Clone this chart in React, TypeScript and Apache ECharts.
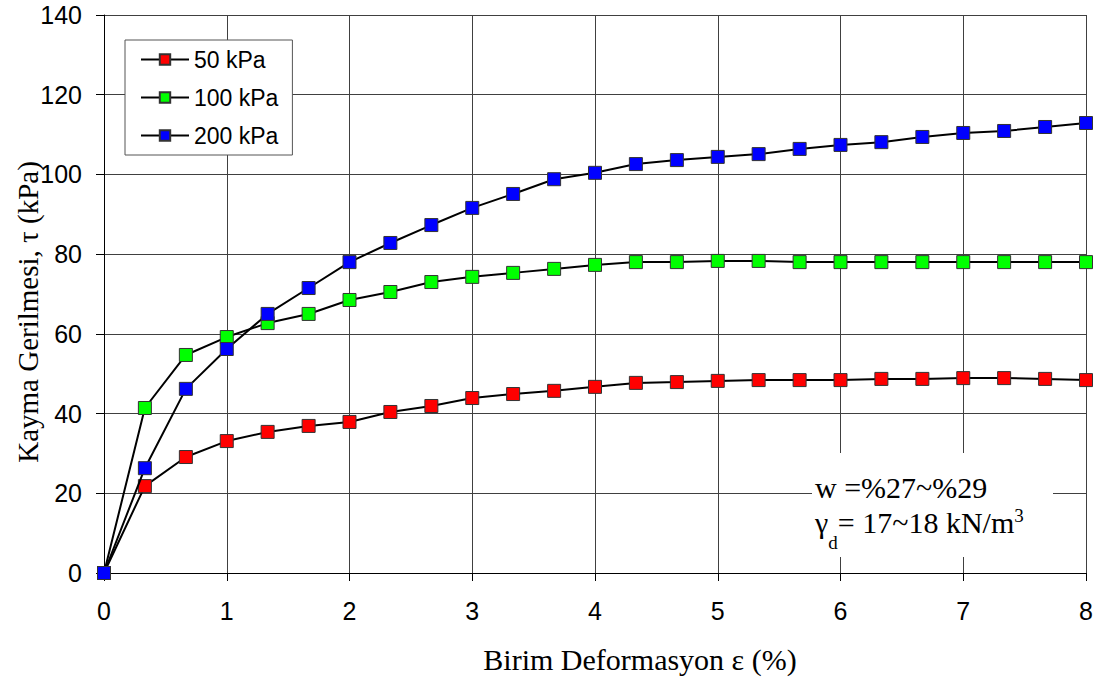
import React, { useEffect, useRef } from "react";
import * as echarts from "echarts";

const strain = [0, 0.333, 0.667, 1, 1.333, 1.667, 2, 2.333, 2.667, 3, 3.333, 3.667, 4, 4.333, 4.667, 5, 5.333, 5.667, 6, 6.333, 6.667, 7, 7.333, 7.667, 8];
const s50 = [0, 21.8, 29.1, 33.1, 35.4, 36.9, 37.9, 40.4, 41.9, 43.9, 44.9, 45.7, 46.7, 47.7, 47.9, 48.2, 48.4, 48.4, 48.4, 48.7, 48.7, 48.9, 48.9, 48.7, 48.4];
const s100 = [0, 41.4, 54.7, 59.2, 62.7, 65, 68.5, 70.5, 73, 74.3, 75.3, 76.3, 77.3, 78, 78, 78.3, 78.3, 78, 78, 78, 78, 78, 78, 78, 78];
const s200 = [0, 26.3, 46.2, 56.2, 65, 71.5, 78, 82.8, 87.3, 91.6, 95.1, 98.8, 100.4, 102.6, 103.6, 104.4, 105.1, 106.4, 107.4, 108.1, 109.4, 110.4, 110.9, 111.9, 112.9];
const seriesNames = ["50 kPa", "100 kPa", "200 kPa"];
const seriesColors = ["#ff0000", "#00ff00", "#0000ff"];
const xTitle = "Birim Deformasyon ε (%)";
const yTitle = "Kayma Gerilmesi, τ (kPa)";

const SERIF = "'Liberation Serif', 'Times New Roman', serif";
const SANS = "Liberation Sans, Arial";

export default function App() {
  const ref = useRef<HTMLDivElement>(null);
  useEffect(() => {
    if (!ref.current) return;
    const chart = echarts.init(ref.current, undefined, { renderer: "svg" });
    const all = [s50, s100, s200];
    const series = all.map((vals, i) => ({
      name: seriesNames[i],
      type: "line",
      data: strain.map((x, k) => [x, vals[k]]),
      symbol: "rect",
      symbolSize: 13,
      itemStyle: { color: seriesColors[i], borderColor: "#333", borderWidth: 1 },
      lineStyle: { color: "#000", width: 2 },
      z: 2 + i,
    }));
    chart.setOption({
      animation: false,
      backgroundColor: "#fff",
      grid: { left: 104, right: 12, top: 15, bottom: 107, containLabel: false, outerBoundsMode: "none" },
      legend: {
        orient: "vertical",
        left: 125,
        top: 40,
        padding: [8, 14, 8, 15],
        itemWidth: 48,
        itemHeight: 13,
        itemGap: 15,
        backgroundColor: "#fff",
        borderColor: "#555",
        borderWidth: 1,
        textStyle: { fontFamily: SANS, fontSize: 23, color: "#000" },
        data: seriesNames,
      },
      xAxis: {
        type: "value",
        min: 0,
        max: 8,
        interval: 1,
        axisLine: { onZero: false, lineStyle: { color: "#000", width: 1 } },
        axisTick: { show: true, length: 8, inside: false, lineStyle: { color: "#000" } },
        axisLabel: { fontFamily: SANS, fontSize: 25, color: "#000", margin: 25 },
        splitLine: { show: true, lineStyle: { color: "#404040", width: 1 } },
      },
      yAxis: {
        type: "value",
        min: 0,
        max: 140,
        interval: 20,
        axisLine: { show: true, lineStyle: { color: "#000", width: 1 } },
        axisTick: { show: true, length: 8, inside: false, lineStyle: { color: "#000" } },
        axisLabel: { fontFamily: SANS, fontSize: 25, color: "#000", margin: 22 },
        splitLine: { show: true, lineStyle: { color: "#404040", width: 1 } },
      },
      graphic: [
        {
          type: "text",
          x: 640,
          y: 659,
          style: { text: xTitle, font: `30px ${SERIF}`, fill: "#000", align: "center", verticalAlign: "middle" },
        },
        {
          type: "text",
          x: 28,
          y: 312,
          rotation: Math.PI / 2,
          style: { text: yTitle, font: `29px ${SERIF}`, fill: "#000", align: "center", verticalAlign: "middle" },
        },
        {
          type: "rect",
          z: 100,
          shape: { x: 812, y: 453, width: 241, height: 104 },
          style: { fill: "#fff", stroke: "none" },
        },
        {
          type: "text",
          z: 101,
          x: 815,
          y: 487,
          style: {
            text: "w =%27~%29",
            font: `30px ${SERIF}`,
            fill: "#000",
            verticalAlign: "middle",
          },
        },
        {
          type: "text",
          z: 101,
          x: 815,
          y: 522,
          style: {
            text: "{a|γ}{s|d}{a|= 17~18 kN/m}{p|3}",
            fill: "#000",
            verticalAlign: "middle",
            rich: {
              a: { fontFamily: SERIF, fontSize: 30, lineHeight: 60, verticalAlign: "middle", color: "#000" },
              s: { fontFamily: SERIF, fontSize: 19, lineHeight: 22, verticalAlign: "bottom", color: "#000" },
              p: { fontFamily: SERIF, fontSize: 19, lineHeight: 22, verticalAlign: "top", padding: [14, 0, 0, 0], color: "#000" },
            },
          },
        },
      ],
      series,
    });
    return () => chart.dispose();
  }, []);
  return <div ref={ref} style={{ position: "fixed", left: 0, top: 0, width: 1098, height: 680 }} />;
}
